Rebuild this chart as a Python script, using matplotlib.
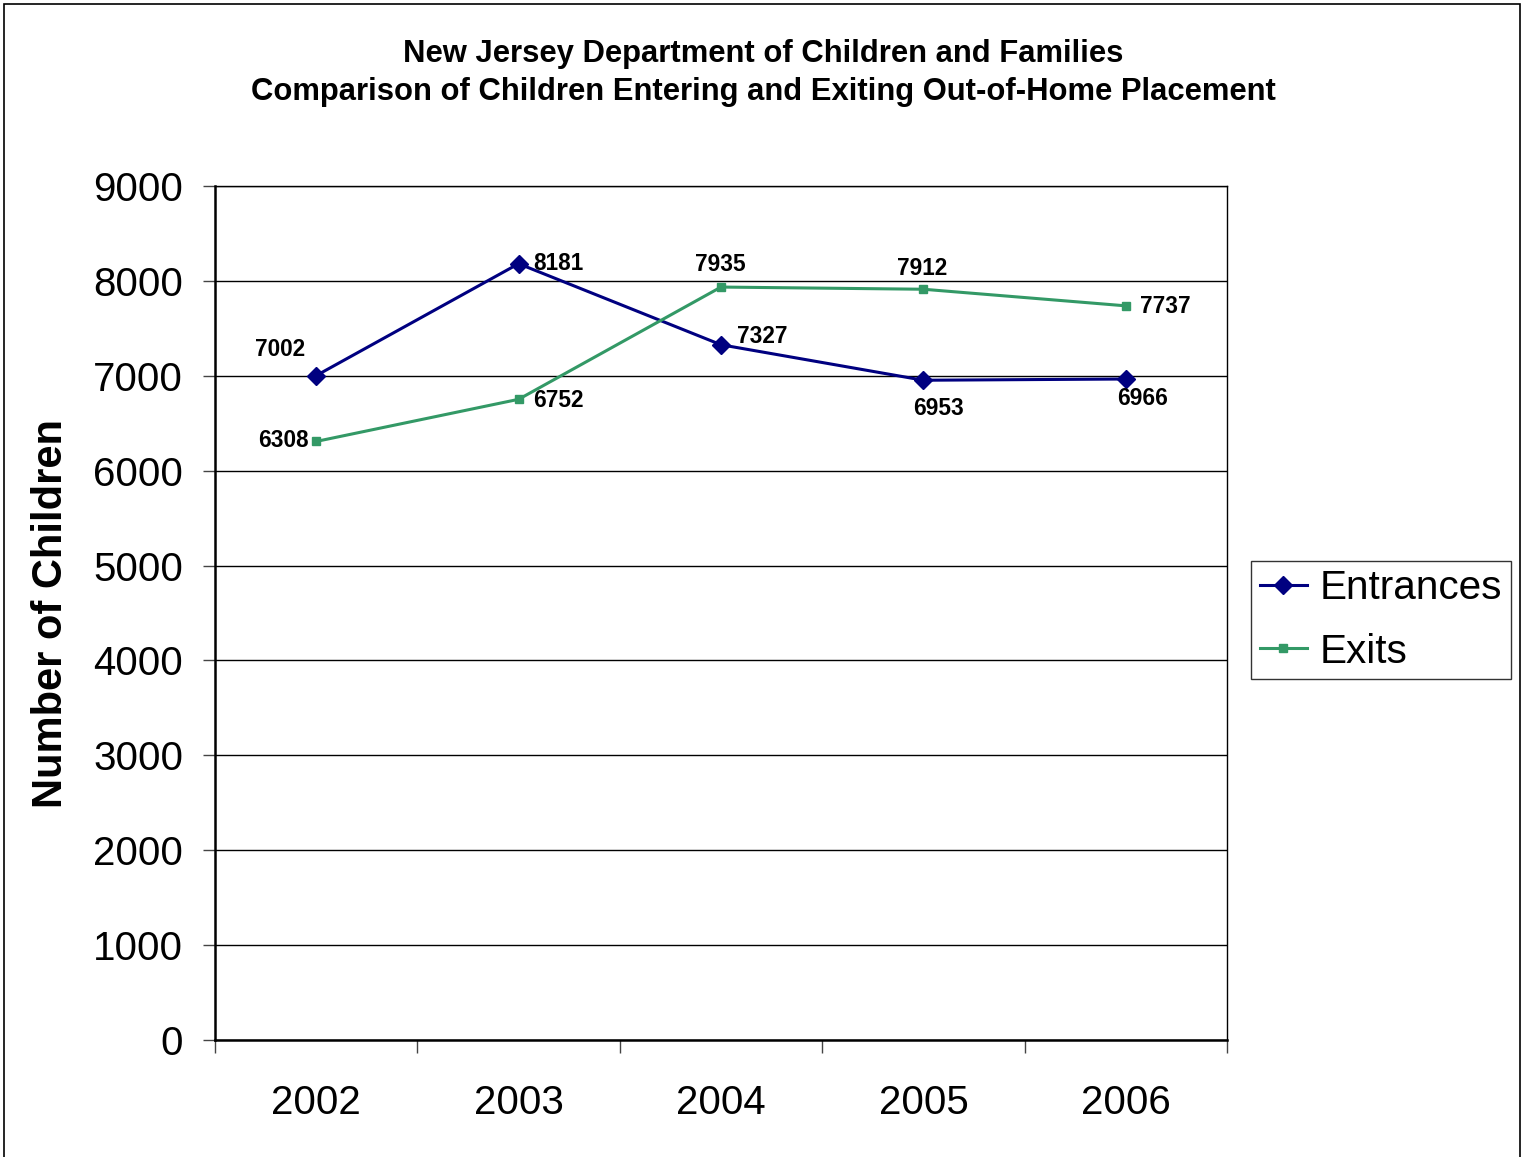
import matplotlib.pyplot as plt
import matplotlib.patches as patches
import numpy as np

plt.rcParams['font.family'] = ['Liberation Sans', 'DejaVu Sans']

years = ["2002", "2003", "2004", "2005", "2006"]
entrances = [7002, 8181, 7327, 6953, 6966]
exits = [6308, 6752, 7935, 7912, 7737]
y_ticks = [0, 1000, 2000, 3000, 4000, 5000, 6000, 7000, 8000, 9000]

# label offsets in pixels (dx, dy, ha)
ent_off = [(-36, 26, 'center'), (15, 0, 'left'), (16, 8, 'left'), (15, -28, 'center'), (17, -19, 'center')]
ext_off = [(-7, 1, 'right'), (15, -1, 'left'), (-1, 23, 'center'), (-1, 21, 'center'), (14, -1, 'left')]

navy = "#000080"
green = "#339966"

fig = plt.figure(figsize=(15.3, 11.57), dpi=100)
ax = fig.add_axes([215 / 1530, 117 / 1157, 1012 / 1530, 854 / 1157])

x = np.arange(len(years))
ax.plot(x, entrances, color=navy, lw=2.2, marker='D', ms=9, label="Entrances", zorder=3)
ax.plot(x, exits, color=green, lw=2.2, marker='s', ms=5.5, label="Exits", zorder=3)

for xi, v, (dx, dy, ha) in zip(x, entrances, ent_off):
    ax.annotate(str(v), (xi, v), xytext=(dx, dy), textcoords='offset pixels',
                ha=ha, va='center', fontsize=16.3, fontweight='bold')
for xi, v, (dx, dy, ha) in zip(x, exits, ext_off):
    ax.annotate(str(v), (xi, v), xytext=(dx, dy), textcoords='offset pixels',
                ha=ha, va='center', fontsize=16.3, fontweight='bold')

ax.set_ylim(0, 9000)
ax.set_xlim(-0.5, len(years) - 0.5)
ax.set_yticks(y_ticks)
ax.set_yticklabels([str(t) for t in y_ticks], fontsize=29)
ax.yaxis.grid(True, color='black', lw=1)
ax.set_axisbelow(True)

ax.set_xticks(np.arange(-0.5, len(years), 1.0))
ax.set_xticklabels([])
ax.set_xticks(x, minor=True)
ax.set_xticklabels(years, minor=True, fontsize=29)
ax.tick_params(axis='x', which='major', length=9, width=1, color='#444444', direction='out')
ax.tick_params(axis='x', which='minor', length=0, pad=32)
ax.tick_params(axis='y', length=9, width=1, color='#444444', direction='out', pad=14)

for s in ['top', 'right']:
    ax.spines[s].set_color('black')
    ax.spines[s].set_linewidth(1)
for s in ['left', 'bottom']:
    ax.spines[s].set_color('black')
    ax.spines[s].set_linewidth(1.8)

ax.set_ylabel("Number of Children", fontsize=30, fontweight='bold', labelpad=16)

fig.text(763 / 1530, 1 - 54 / 1157, "New Jersey Department of Children and Families",
         ha='center', va='center', fontsize=22.3, fontweight='bold')
fig.text(763 / 1530, 1 - 92 / 1157, "Comparison of Children Entering and Exiting Out-of-Home Placement",
         ha='center', va='center', fontsize=22.3, fontweight='bold')

leg = ax.legend(loc='center left', bbox_to_anchor=(1251 / 1530, 1 - 620 / 1157),
                bbox_transform=fig.transFigure, fontsize=29.2, frameon=True, fancybox=False,
                handlelength=1.15, handletextpad=0.32, borderpad=0.22, labelspacing=0.62,
                borderaxespad=0)
leg.get_frame().set_edgecolor('black')
leg.get_frame().set_linewidth(1)

fig.patches.append(patches.Rectangle((4 / 1530, -0.01), 1516 / 1530, 1.01 - 4 / 1157,
                                     transform=fig.transFigure, fill=False,
                                     edgecolor='black', lw=1.2))

fig.savefig("out.png", dpi=100)
